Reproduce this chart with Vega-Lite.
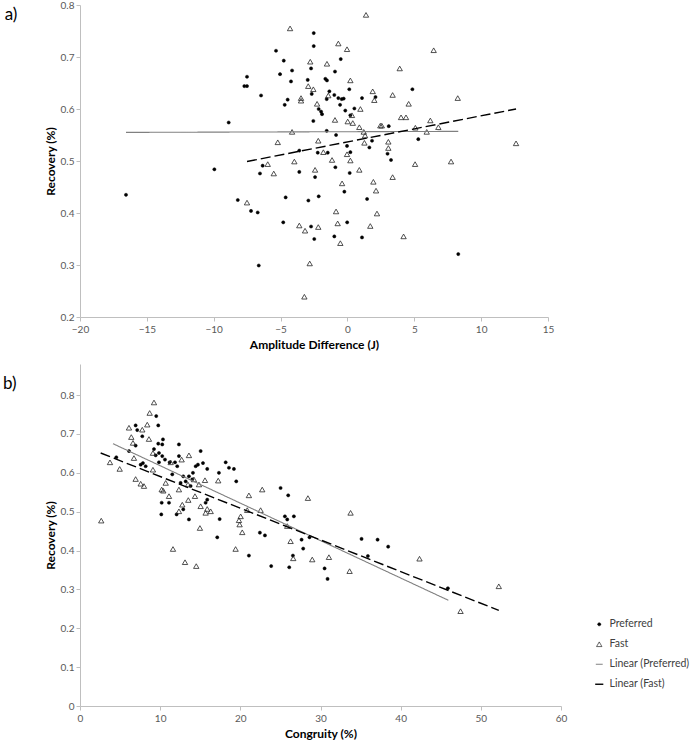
{
  "$schema": "https://vega.github.io/schema/vega-lite/v6.json",
  "background": "white",
  "padding": {"left": 2, "top": 0, "right": 0, "bottom": 4},
  "config": {
    "font": "Lato",
    "view": {"stroke": null},
    "concat": {"spacing": 14},
    "axis": {
      "grid": false,
      "domainColor": "#bfbfbf",
      "tickColor": "#bfbfbf",
      "tickSize": 4,
      "labelColor": "#595959",
      "labelFontSize": 10,
      "labelFont": "Lato",
      "titleFont": "Lato",
      "titleFontSize": 12,
      "titleFontWeight": "bold",
      "titleColor": "#000000",
      "labelFlush": false
    },
    "legend": {
      "labelFont": "Lato",
      "labelFontSize": 10.5,
      "labelColor": "#404040",
      "rowPadding": 9,
      "labelOffset": 5
    }
  },
  "datasets": {
    "a_pts": [
      {"x": -16.56, "y": 0.435, "series": "Preferred"},
      {"x": -8.88, "y": 0.574, "series": "Preferred"},
      {"x": -9.95, "y": 0.484, "series": "Preferred"},
      {"x": -7.51, "y": 0.662, "series": "Preferred"},
      {"x": -7.71, "y": 0.644, "series": "Preferred"},
      {"x": -7.51, "y": 0.644, "series": "Preferred"},
      {"x": -6.46, "y": 0.626, "series": "Preferred"},
      {"x": -5.34, "y": 0.712, "series": "Preferred"},
      {"x": -4.76, "y": 0.693, "series": "Preferred"},
      {"x": -5.04, "y": 0.667, "series": "Preferred"},
      {"x": -4.14, "y": 0.674, "series": "Preferred"},
      {"x": -4.22, "y": 0.653, "series": "Preferred"},
      {"x": -4.47, "y": 0.618, "series": "Preferred"},
      {"x": -4.69, "y": 0.608, "series": "Preferred"},
      {"x": -2.52, "y": 0.746, "series": "Preferred"},
      {"x": -2.52, "y": 0.721, "series": "Preferred"},
      {"x": -2.72, "y": 0.678, "series": "Preferred"},
      {"x": -2.97, "y": 0.656, "series": "Preferred"},
      {"x": -2.67, "y": 0.629, "series": "Preferred"},
      {"x": -0.5, "y": 0.696, "series": "Preferred"},
      {"x": -0.93, "y": 0.672, "series": "Preferred"},
      {"x": -1.65, "y": 0.658, "series": "Preferred"},
      {"x": -1.53, "y": 0.655, "series": "Preferred"},
      {"x": -1.35, "y": 0.634, "series": "Preferred"},
      {"x": -1.55, "y": 0.619, "series": "Preferred"},
      {"x": -0.98, "y": 0.627, "series": "Preferred"},
      {"x": -0.68, "y": 0.621, "series": "Preferred"},
      {"x": -0.43, "y": 0.619, "series": "Preferred"},
      {"x": -0.28, "y": 0.62, "series": "Preferred"},
      {"x": -0.55, "y": 0.608, "series": "Preferred"},
      {"x": -2.15, "y": 0.6, "series": "Preferred"},
      {"x": -1.97, "y": 0.595, "series": "Preferred"},
      {"x": -1.9, "y": 0.59, "series": "Preferred"},
      {"x": 0.14, "y": 0.638, "series": "Preferred"},
      {"x": 1.09, "y": 0.621, "series": "Preferred"},
      {"x": 0.52, "y": 0.601, "series": "Preferred"},
      {"x": 0.22, "y": 0.588, "series": "Preferred"},
      {"x": -0.16, "y": 0.597, "series": "Preferred"},
      {"x": -2.55, "y": 0.577, "series": "Preferred"},
      {"x": -1.55, "y": 0.558, "series": "Preferred"},
      {"x": -0.85, "y": 0.55, "series": "Preferred"},
      {"x": -0.03, "y": 0.529, "series": "Preferred"},
      {"x": 0.22, "y": 0.517, "series": "Preferred"},
      {"x": -2.22, "y": 0.516, "series": "Preferred"},
      {"x": -1.47, "y": 0.516, "series": "Preferred"},
      {"x": -3.6, "y": 0.52, "series": "Preferred"},
      {"x": -6.34, "y": 0.491, "series": "Preferred"},
      {"x": -6.54, "y": 0.476, "series": "Preferred"},
      {"x": -3.6, "y": 0.479, "series": "Preferred"},
      {"x": -2.42, "y": 0.469, "series": "Preferred"},
      {"x": -0.9, "y": 0.488, "series": "Preferred"},
      {"x": 0.17, "y": 0.477, "series": "Preferred"},
      {"x": 1.64, "y": 0.526, "series": "Preferred"},
      {"x": -0.23, "y": 0.441, "series": "Preferred"},
      {"x": 1.47, "y": 0.427, "series": "Preferred"},
      {"x": 4.86, "y": 0.638, "series": "Preferred"},
      {"x": 3.09, "y": 0.567, "series": "Preferred"},
      {"x": 5.3, "y": 0.542, "series": "Preferred"},
      {"x": 3.26, "y": 0.502, "series": "Preferred"},
      {"x": 1.84, "y": 0.539, "series": "Preferred"},
      {"x": 3.0, "y": 0.514, "series": "Preferred"},
      {"x": 2.1, "y": 0.623, "series": "Preferred"},
      {"x": -8.2, "y": 0.425, "series": "Preferred"},
      {"x": -7.21, "y": 0.404, "series": "Preferred"},
      {"x": -6.71, "y": 0.401, "series": "Preferred"},
      {"x": -4.62, "y": 0.43, "series": "Preferred"},
      {"x": -4.8, "y": 0.382, "series": "Preferred"},
      {"x": -2.92, "y": 0.424, "series": "Preferred"},
      {"x": -2.15, "y": 0.432, "series": "Preferred"},
      {"x": -2.72, "y": 0.374, "series": "Preferred"},
      {"x": -2.48, "y": 0.35, "series": "Preferred"},
      {"x": -0.98, "y": 0.355, "series": "Preferred"},
      {"x": -0.02, "y": 0.382, "series": "Preferred"},
      {"x": 1.09, "y": 0.353, "series": "Preferred"},
      {"x": -6.63, "y": 0.299, "series": "Preferred"},
      {"x": 8.29, "y": 0.321, "series": "Preferred"},
      {"x": 1.39, "y": 0.781, "series": "Fast"},
      {"x": -4.29, "y": 0.755, "series": "Fast"},
      {"x": -0.68, "y": 0.726, "series": "Fast"},
      {"x": -0.03, "y": 0.715, "series": "Fast"},
      {"x": -2.78, "y": 0.691, "series": "Fast"},
      {"x": -1.53, "y": 0.687, "series": "Fast"},
      {"x": 0.22, "y": 0.655, "series": "Fast"},
      {"x": -2.93, "y": 0.644, "series": "Fast"},
      {"x": -2.55, "y": 0.638, "series": "Fast"},
      {"x": -3.47, "y": 0.621, "series": "Fast"},
      {"x": -3.47, "y": 0.616, "series": "Fast"},
      {"x": -1.43, "y": 0.626, "series": "Fast"},
      {"x": 1.89, "y": 0.634, "series": "Fast"},
      {"x": 2.01, "y": 0.617, "series": "Fast"},
      {"x": -2.27, "y": 0.61, "series": "Fast"},
      {"x": 0.97, "y": 0.6, "series": "Fast"},
      {"x": -0.93, "y": 0.579, "series": "Fast"},
      {"x": 0.34, "y": 0.588, "series": "Fast"},
      {"x": 0.02, "y": 0.576, "series": "Fast"},
      {"x": 0.4, "y": 0.573, "series": "Fast"},
      {"x": 0.89, "y": 0.565, "series": "Fast"},
      {"x": 2.46, "y": 0.568, "series": "Fast"},
      {"x": -4.14, "y": 0.556, "series": "Fast"},
      {"x": 1.22, "y": 0.556, "series": "Fast"},
      {"x": 1.32, "y": 0.549, "series": "Fast"},
      {"x": 1.27, "y": 0.535, "series": "Fast"},
      {"x": -5.21, "y": 0.536, "series": "Fast"},
      {"x": -2.18, "y": 0.539, "series": "Fast"},
      {"x": -1.8, "y": 0.517, "series": "Fast"},
      {"x": -0.03, "y": 0.513, "series": "Fast"},
      {"x": 0.22, "y": 0.501, "series": "Fast"},
      {"x": -1.15, "y": 0.502, "series": "Fast"},
      {"x": -3.97, "y": 0.499, "series": "Fast"},
      {"x": -5.96, "y": 0.494, "series": "Fast"},
      {"x": -5.51, "y": 0.476, "series": "Fast"},
      {"x": -2.42, "y": 0.483, "series": "Fast"},
      {"x": 0.89, "y": 0.483, "series": "Fast"},
      {"x": -0.4, "y": 0.457, "series": "Fast"},
      {"x": 1.94, "y": 0.46, "series": "Fast"},
      {"x": 2.14, "y": 0.443, "series": "Fast"},
      {"x": 6.45, "y": 0.713, "series": "Fast"},
      {"x": 3.91, "y": 0.678, "series": "Fast"},
      {"x": 3.38, "y": 0.627, "series": "Fast"},
      {"x": 4.58, "y": 0.61, "series": "Fast"},
      {"x": 8.25, "y": 0.621, "series": "Fast"},
      {"x": 4.01, "y": 0.584, "series": "Fast"},
      {"x": 4.38, "y": 0.584, "series": "Fast"},
      {"x": 2.57, "y": 0.568, "series": "Fast"},
      {"x": 6.2, "y": 0.578, "series": "Fast"},
      {"x": 6.8, "y": 0.565, "series": "Fast"},
      {"x": 5.08, "y": 0.564, "series": "Fast"},
      {"x": 5.93, "y": 0.556, "series": "Fast"},
      {"x": 3.06, "y": 0.537, "series": "Fast"},
      {"x": 3.06, "y": 0.525, "series": "Fast"},
      {"x": 12.61, "y": 0.534, "series": "Fast"},
      {"x": 7.75, "y": 0.499, "series": "Fast"},
      {"x": 5.06, "y": 0.494, "series": "Fast"},
      {"x": 3.38, "y": 0.469, "series": "Fast"},
      {"x": -7.51, "y": 0.42, "series": "Fast"},
      {"x": -0.85, "y": 0.403, "series": "Fast"},
      {"x": 2.21, "y": 0.399, "series": "Fast"},
      {"x": -3.6, "y": 0.376, "series": "Fast"},
      {"x": -3.17, "y": 0.366, "series": "Fast"},
      {"x": -2.18, "y": 0.373, "series": "Fast"},
      {"x": -0.73, "y": 0.38, "series": "Fast"},
      {"x": -0.53, "y": 0.342, "series": "Fast"},
      {"x": 1.71, "y": 0.375, "series": "Fast"},
      {"x": -2.82, "y": 0.303, "series": "Fast"},
      {"x": -3.22, "y": 0.239, "series": "Fast"},
      {"x": 4.2, "y": 0.355, "series": "Fast"}
    ],
    "a_lines": [
      {"x": -16.56, "y": 0.555, "series": "Linear (Preferred)"},
      {"x": 8.29, "y": 0.557, "series": "Linear (Preferred)"},
      {"x": -7.51, "y": 0.499, "series": "Linear (Fast)"},
      {"x": 12.61, "y": 0.6, "series": "Linear (Fast)"}
    ],
    "b_pts": [
      {"x": 4.53, "y": 0.64, "series": "Preferred"},
      {"x": 6.11, "y": 0.656, "series": "Preferred"},
      {"x": 6.94, "y": 0.722, "series": "Preferred"},
      {"x": 7.14, "y": 0.71, "series": "Preferred"},
      {"x": 7.77, "y": 0.694, "series": "Preferred"},
      {"x": 6.94, "y": 0.67, "series": "Preferred"},
      {"x": 9.51, "y": 0.746, "series": "Preferred"},
      {"x": 9.76, "y": 0.722, "series": "Preferred"},
      {"x": 9.76, "y": 0.675, "series": "Preferred"},
      {"x": 10.26, "y": 0.673, "series": "Preferred"},
      {"x": 10.35, "y": 0.686, "series": "Preferred"},
      {"x": 9.23, "y": 0.661, "series": "Preferred"},
      {"x": 9.44, "y": 0.645, "series": "Preferred"},
      {"x": 9.85, "y": 0.651, "series": "Preferred"},
      {"x": 10.26, "y": 0.643, "series": "Preferred"},
      {"x": 10.6, "y": 0.634, "series": "Preferred"},
      {"x": 7.57, "y": 0.621, "series": "Preferred"},
      {"x": 7.85, "y": 0.625, "series": "Preferred"},
      {"x": 8.19, "y": 0.617, "series": "Preferred"},
      {"x": 9.85, "y": 0.627, "series": "Preferred"},
      {"x": 12.34, "y": 0.673, "series": "Preferred"},
      {"x": 11.18, "y": 0.627, "series": "Preferred"},
      {"x": 11.85, "y": 0.627, "series": "Preferred"},
      {"x": 12.13, "y": 0.617, "series": "Preferred"},
      {"x": 12.34, "y": 0.643, "series": "Preferred"},
      {"x": 11.51, "y": 0.596, "series": "Preferred"},
      {"x": 12.88, "y": 0.591, "series": "Preferred"},
      {"x": 13.18, "y": 0.578, "series": "Preferred"},
      {"x": 13.59, "y": 0.591, "series": "Preferred"},
      {"x": 12.55, "y": 0.574, "series": "Preferred"},
      {"x": 10.19, "y": 0.523, "series": "Preferred"},
      {"x": 11.1, "y": 0.523, "series": "Preferred"},
      {"x": 10.14, "y": 0.493, "series": "Preferred"},
      {"x": 12.05, "y": 0.493, "series": "Preferred"},
      {"x": 12.88, "y": 0.506, "series": "Preferred"},
      {"x": 13.59, "y": 0.48, "series": "Preferred"},
      {"x": 15.05, "y": 0.656, "series": "Preferred"},
      {"x": 14.71, "y": 0.621, "series": "Preferred"},
      {"x": 15.34, "y": 0.625, "series": "Preferred"},
      {"x": 14.09, "y": 0.6, "series": "Preferred"},
      {"x": 14.43, "y": 0.617, "series": "Preferred"},
      {"x": 15.87, "y": 0.61, "series": "Preferred"},
      {"x": 13.8, "y": 0.566, "series": "Preferred"},
      {"x": 14.0, "y": 0.583, "series": "Preferred"},
      {"x": 15.67, "y": 0.523, "series": "Preferred"},
      {"x": 15.87, "y": 0.531, "series": "Preferred"},
      {"x": 17.33, "y": 0.6, "series": "Preferred"},
      {"x": 18.17, "y": 0.627, "series": "Preferred"},
      {"x": 18.58, "y": 0.613, "series": "Preferred"},
      {"x": 19.2, "y": 0.61, "series": "Preferred"},
      {"x": 19.49, "y": 0.578, "series": "Preferred"},
      {"x": 17.12, "y": 0.434, "series": "Preferred"},
      {"x": 17.42, "y": 0.481, "series": "Preferred"},
      {"x": 22.44, "y": 0.446, "series": "Preferred"},
      {"x": 23.07, "y": 0.439, "series": "Preferred"},
      {"x": 25.02, "y": 0.561, "series": "Preferred"},
      {"x": 25.97, "y": 0.542, "series": "Preferred"},
      {"x": 25.56, "y": 0.488, "series": "Preferred"},
      {"x": 25.85, "y": 0.48, "series": "Preferred"},
      {"x": 26.68, "y": 0.488, "series": "Preferred"},
      {"x": 21.07, "y": 0.387, "series": "Preferred"},
      {"x": 26.56, "y": 0.387, "series": "Preferred"},
      {"x": 23.85, "y": 0.36, "series": "Preferred"},
      {"x": 26.1, "y": 0.357, "series": "Preferred"},
      {"x": 27.64, "y": 0.428, "series": "Preferred"},
      {"x": 27.84, "y": 0.405, "series": "Preferred"},
      {"x": 28.63, "y": 0.434, "series": "Preferred"},
      {"x": 30.51, "y": 0.354, "series": "Preferred"},
      {"x": 30.88, "y": 0.327, "series": "Preferred"},
      {"x": 35.12, "y": 0.43, "series": "Preferred"},
      {"x": 37.12, "y": 0.428, "series": "Preferred"},
      {"x": 38.44, "y": 0.41, "series": "Preferred"},
      {"x": 35.91, "y": 0.386, "series": "Preferred"},
      {"x": 45.89, "y": 0.303, "series": "Preferred"},
      {"x": 2.65, "y": 0.477, "series": "Fast"},
      {"x": 3.74, "y": 0.627, "series": "Fast"},
      {"x": 4.95, "y": 0.61, "series": "Fast"},
      {"x": 6.11, "y": 0.716, "series": "Fast"},
      {"x": 6.4, "y": 0.692, "series": "Fast"},
      {"x": 6.61, "y": 0.677, "series": "Fast"},
      {"x": 6.73, "y": 0.638, "series": "Fast"},
      {"x": 7.77, "y": 0.711, "series": "Fast"},
      {"x": 8.39, "y": 0.724, "series": "Fast"},
      {"x": 8.69, "y": 0.754, "series": "Fast"},
      {"x": 9.23, "y": 0.781, "series": "Fast"},
      {"x": 8.6, "y": 0.687, "series": "Fast"},
      {"x": 9.1, "y": 0.651, "series": "Fast"},
      {"x": 9.1, "y": 0.608, "series": "Fast"},
      {"x": 6.94, "y": 0.584, "series": "Fast"},
      {"x": 7.57, "y": 0.572, "series": "Fast"},
      {"x": 7.98, "y": 0.566, "series": "Fast"},
      {"x": 10.19, "y": 0.557, "series": "Fast"},
      {"x": 10.39, "y": 0.554, "series": "Fast"},
      {"x": 10.69, "y": 0.574, "series": "Fast"},
      {"x": 11.1, "y": 0.54, "series": "Fast"},
      {"x": 12.34, "y": 0.557, "series": "Fast"},
      {"x": 12.34, "y": 0.501, "series": "Fast"},
      {"x": 11.31, "y": 0.627, "series": "Fast"},
      {"x": 12.68, "y": 0.634, "series": "Fast"},
      {"x": 13.59, "y": 0.645, "series": "Fast"},
      {"x": 12.76, "y": 0.518, "series": "Fast"},
      {"x": 13.51, "y": 0.53, "series": "Fast"},
      {"x": 14.34, "y": 0.54, "series": "Fast"},
      {"x": 13.47, "y": 0.57, "series": "Fast"},
      {"x": 14.21, "y": 0.583, "series": "Fast"},
      {"x": 14.84, "y": 0.57, "series": "Fast"},
      {"x": 15.59, "y": 0.581, "series": "Fast"},
      {"x": 15.05, "y": 0.514, "series": "Fast"},
      {"x": 15.67, "y": 0.497, "series": "Fast"},
      {"x": 15.87, "y": 0.507, "series": "Fast"},
      {"x": 16.3, "y": 0.501, "series": "Fast"},
      {"x": 14.96, "y": 0.458, "series": "Fast"},
      {"x": 11.6, "y": 0.404, "series": "Fast"},
      {"x": 13.1, "y": 0.37, "series": "Fast"},
      {"x": 14.5, "y": 0.36, "series": "Fast"},
      {"x": 17.24, "y": 0.58, "series": "Fast"},
      {"x": 19.41, "y": 0.404, "series": "Fast"},
      {"x": 19.83, "y": 0.478, "series": "Fast"},
      {"x": 20.04, "y": 0.488, "series": "Fast"},
      {"x": 19.91, "y": 0.467, "series": "Fast"},
      {"x": 20.24, "y": 0.447, "series": "Fast"},
      {"x": 20.86, "y": 0.504, "series": "Fast"},
      {"x": 21.07, "y": 0.542, "series": "Fast"},
      {"x": 22.73, "y": 0.557, "series": "Fast"},
      {"x": 22.53, "y": 0.504, "series": "Fast"},
      {"x": 25.85, "y": 0.463, "series": "Fast"},
      {"x": 26.27, "y": 0.424, "series": "Fast"},
      {"x": 28.43, "y": 0.535, "series": "Fast"},
      {"x": 26.6, "y": 0.38, "series": "Fast"},
      {"x": 28.97, "y": 0.377, "series": "Fast"},
      {"x": 31.05, "y": 0.383, "series": "Fast"},
      {"x": 33.63, "y": 0.347, "series": "Fast"},
      {"x": 33.75, "y": 0.497, "series": "Fast"},
      {"x": 42.35, "y": 0.379, "series": "Fast"},
      {"x": 47.47, "y": 0.244, "series": "Fast"},
      {"x": 52.24, "y": 0.308, "series": "Fast"}
    ],
    "b_lines": [
      {"x": 4.11, "y": 0.675, "series": "Linear (Preferred)"},
      {"x": 45.95, "y": 0.272, "series": "Linear (Preferred)"},
      {"x": 2.58, "y": 0.651, "series": "Linear (Fast)"},
      {"x": 52.24, "y": 0.246, "series": "Linear (Fast)"}
    ]
  },
  "vconcat": [
    {
      "width": 468,
      "height": 312,
      "title": {"text": "a)", "orient": "left", "anchor": "end", "angle": 0, "align": "right", "baseline": "top", "frame": "group", "offset": 14, "fontSize": 17, "fontWeight": "normal", "color": "#000000", "font": "Lato", "dy": 2},
      "layer": [
        {
          "data": {"name": "a_pts"},
          "mark": {"type": "point", "opacity": 1},
          "encoding": {
            "x": {"field": "x", "type": "quantitative", "scale": {"domain": [-20, 15], "nice": false, "zero": false},
                  "axis": {"title": "Amplitude Difference (J)", "values": [-20, -15, -10, -5, 0, 5, 10, 15], "labelPadding": 3, "titlePadding": 5}},
            "y": {"field": "y", "type": "quantitative", "scale": {"domain": [0.2, 0.8], "nice": false, "zero": false},
                  "axis": {"title": "Recovery (%)", "values": [0.2, 0.3, 0.4, 0.5, 0.6, 0.7, 0.8], "format": ".1~f", "labelPadding": 2, "titlePadding": 3}},
            "stroke": {"field": "series", "type": "nominal", "legend": null, "scale": {"domain": ["Preferred", "Fast", "Linear (Preferred)", "Linear (Fast)"], "range": ["#000000", "#262626", "#808080", "#000000"]}},
            "fill": {"field": "series", "type": "nominal", "legend": null, "scale": {"domain": ["Preferred", "Fast", "Linear (Preferred)", "Linear (Fast)"], "range": ["#000000", "transparent", "transparent", "transparent"]}},
            "shape": {"field": "series", "type": "nominal", "legend": null, "scale": {"domain": ["Preferred", "Fast", "Linear (Preferred)", "Linear (Fast)"], "range": ["circle", "triangle-up", "stroke", "stroke"]}},
            "size": {"field": "series", "type": "nominal", "legend": null, "scale": {"domain": ["Preferred", "Fast", "Linear (Preferred)", "Linear (Fast)"], "range": [10, 66, 400, 400]}},
            "strokeWidth": {"field": "series", "type": "nominal", "legend": null, "scale": {"domain": ["Preferred", "Fast", "Linear (Preferred)", "Linear (Fast)"], "range": [0.5, 1.4, 1.5, 2.5]}}
          }
        },
        {
          "data": {"name": "a_lines"},
          "mark": {"type": "line"},
          "encoding": {
            "x": {"field": "x", "type": "quantitative"},
            "y": {"field": "y", "type": "quantitative"},
            "stroke": {"field": "series", "type": "nominal", "legend": null},
            "strokeWidth": {"field": "series", "type": "nominal", "legend": null},
            "strokeDash": {"field": "series", "type": "nominal", "legend": null, "scale": {"domain": ["Preferred", "Fast", "Linear (Preferred)", "Linear (Fast)"], "range": [[1, 0], [1, 0], [1, 0], [10, 4]]}}
          }
        }
      ]
    },
    {
      "width": 481,
      "height": 342,
      "title": {"text": "b)", "orient": "left", "anchor": "end", "angle": 0, "align": "right", "baseline": "top", "frame": "group", "offset": 14, "fontSize": 17, "fontWeight": "normal", "color": "#000000", "font": "Lato", "dy": 12},
      "layer": [
        {
          "data": {"name": "b_pts"},
          "mark": {"type": "point", "opacity": 1},
          "encoding": {
            "x": {"field": "x", "type": "quantitative", "scale": {"domain": [0, 60], "nice": false},
                  "axis": {"title": "Congruity (%)", "values": [0, 10, 20, 30, 40, 50, 60], "labelPadding": 3, "titlePadding": 5}},
            "y": {"field": "y", "type": "quantitative", "scale": {"domain": [0, 0.88], "nice": false},
                  "axis": {"title": "Recovery (%)", "values": [0, 0.1, 0.2, 0.3, 0.4, 0.5, 0.6, 0.7, 0.8], "format": ".1~f", "labelPadding": 2, "titlePadding": 3}},
            "stroke": {"field": "series", "type": "nominal", "legend": {"title": null, "orient": "none", "legendX": 514, "legendY": 255}, "scale": {"domain": ["Preferred", "Fast", "Linear (Preferred)", "Linear (Fast)"], "range": ["#000000", "#262626", "#808080", "#000000"]}},
            "fill": {"field": "series", "type": "nominal", "legend": {"title": null, "orient": "none", "legendX": 514, "legendY": 255}, "scale": {"domain": ["Preferred", "Fast", "Linear (Preferred)", "Linear (Fast)"], "range": ["#000000", "transparent", "transparent", "transparent"]}},
            "shape": {"field": "series", "type": "nominal", "legend": {"title": null, "orient": "none", "legendX": 514, "legendY": 255}, "scale": {"domain": ["Preferred", "Fast", "Linear (Preferred)", "Linear (Fast)"], "range": ["circle", "triangle-up", "stroke", "stroke"]}},
            "size": {"field": "series", "type": "nominal", "legend": {"title": null, "orient": "none", "legendX": 514, "legendY": 255}, "scale": {"domain": ["Preferred", "Fast", "Linear (Preferred)", "Linear (Fast)"], "range": [10, 66, 400, 400]}},
            "strokeWidth": {"field": "series", "type": "nominal", "legend": {"title": null, "orient": "none", "legendX": 514, "legendY": 255}, "scale": {"domain": ["Preferred", "Fast", "Linear (Preferred)", "Linear (Fast)"], "range": [0.5, 1.4, 1.5, 2.5]}}
          }
        },
        {
          "data": {"name": "b_lines"},
          "mark": {"type": "line"},
          "encoding": {
            "x": {"field": "x", "type": "quantitative"},
            "y": {"field": "y", "type": "quantitative"},
            "stroke": {"field": "series", "type": "nominal"},
            "strokeWidth": {"field": "series", "type": "nominal"},
            "strokeDash": {"field": "series", "type": "nominal", "legend": {"title": null, "orient": "none", "legendX": 514, "legendY": 255}, "scale": {"domain": ["Preferred", "Fast", "Linear (Preferred)", "Linear (Fast)"], "range": [[1, 0], [1, 0], [1, 0], [10, 4]]}}
          }
        }
      ]
    }
  ],
  "resolve": {
    "scale": {"stroke": "independent", "fill": "independent", "shape": "independent", "size": "independent", "strokeWidth": "independent", "strokeDash": "independent"},
    "legend": {"stroke": "independent", "fill": "independent", "shape": "independent", "size": "independent", "strokeWidth": "independent", "strokeDash": "independent"}
  }
}
